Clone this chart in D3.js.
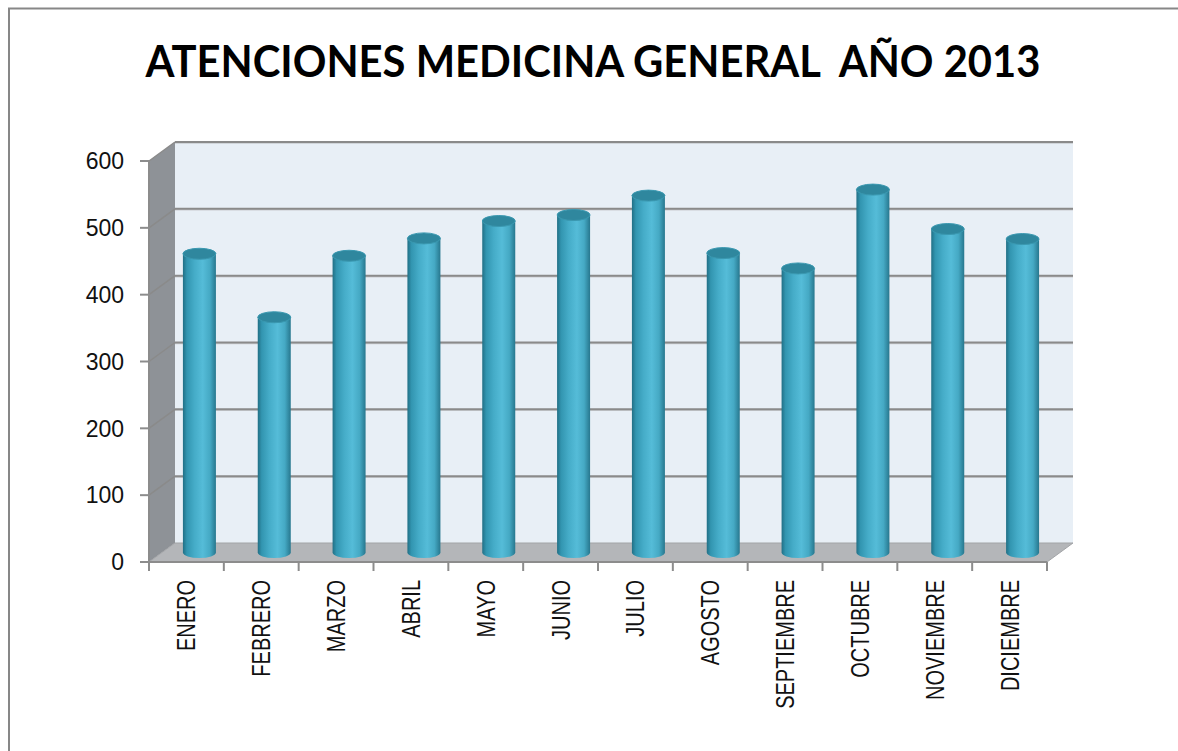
<!DOCTYPE html>
<html>
<head>
<meta charset="utf-8">
<script src="https://cdnjs.cloudflare.com/ajax/libs/d3/7.8.5/d3.min.js"></script>
<style>
  body { margin: 0; background: #fff; }
  svg { display: block; }
</style>
</head>
<body>
<div class="chart"></div>
<script>
var months = ["ENERO", "FEBRERO", "MARZO", "ABRIL", "MAYO", "JUNIO", "JULIO",
	"AGOSTO", "SEPTIEMBRE", "OCTUBRE", "NOVIEMBRE", "DICIEMBRE"];
var values = [447, 352, 444, 470, 496, 505, 534, 448, 425, 543, 484, 469];
var y_ticks = [0, 100, 200, 300, 400, 500, 600];
var title = "ATENCIONES MEDICINA GENERAL  AÑO 2013";

var colors = {
	wall: "#e8eff6",
	side: "#8e9297",
	floor: "#b4b6b9",
	grid: "#8a8a8a",
	axis: "#8c8c8c",
	top: "#2f879e"
};

var width = 1178, height = 751;
// depth of the 3d box
var depth = {x: 26, y: -19};

var svg = d3.select(".chart").append("svg")
	.attr("width", width)
	.attr("height", height);

var x = d3.scaleBand()
	.domain(months)
	.range([149, 1047]);

var y = d3.scaleLinear()
	.domain([0, 600])
	.range([562, 161]);

// gradient for the cylinders
var defs = svg.append("defs");
var grad = defs.append("linearGradient")
	.attr("id", "cyl")
	.attr("x1", "0%").attr("x2", "100%")
	.attr("y1", "0%").attr("y2", "0%");
[[0, "#216f85"], [0.12, "#3295b0"], [0.35, "#45acc8"], [0.6, "#55bcd8"], [0.82, "#45a9c4"], [1, "#27778e"]]
	.forEach(function(s){
		grad.append("stop").attr("offset", s[0]).attr("stop-color", s[1]);
	});

// outer frame (top + left)
svg.append("path")
	.attr("d", "M9,751 L9,8.5 L1178,8.5")
	.attr("fill", "none")
	.attr("stroke", "#878787")
	.attr("stroke-width", 2);

// title
svg.append("text")
	.attr("x", 593)
	.attr("y", 77)
	.attr("text-anchor", "middle")
	.attr("textLength", 895)
	.attr("lengthAdjust", "spacingAndGlyphs")
	.style("white-space", "pre")
	.style("font-family", "Lato, 'Open Sans', sans-serif")
	.style("font-weight", "bold")
	.style("font-size", "44px")
	.text(title);

var x0 = x.range()[0], x1 = x.range()[1];

// back wall
svg.append("rect")
	.attr("x", x0 + depth.x)
	.attr("y", y(600) + depth.y)
	.attr("width", x1 - x0)
	.attr("height", y(0) - y(600))
	.attr("fill", colors.wall);

// left side wall
svg.append("polygon")
	.attr("points", [
		[x0, y(0)], [x0, y(600)], [x0 + depth.x, y(600) + depth.y], [x0 + depth.x, y(0) + depth.y]
	].join(" "))
	.attr("fill", colors.side);

// floor
svg.append("polygon")
	.attr("points", [
		[x0, y(0)], [x0 + depth.x, y(0) + depth.y], [x1 + depth.x, y(0) + depth.y], [x1, y(0)]
	].join(" "))
	.attr("fill", colors.floor);

// gridlines on back wall + side
var grid = svg.selectAll(".grid")
	.data(y_ticks.filter(function(d){ return d > 0; }))
	.enter().append("g")
		.attr("class", "grid");

grid.append("line")
	.attr("x1", x0 + depth.x)
	.attr("x2", x1 + depth.x)
	.attr("y1", function(d){ return y(d) + depth.y + 1; })
	.attr("y2", function(d){ return y(d) + depth.y + 1; })
	.attr("stroke", "#c9ccd0")
	.attr("stroke-width", 1.5);

grid.append("line")
	.attr("x1", x0 + depth.x)
	.attr("x2", x1 + depth.x)
	.attr("y1", function(d){ return y(d) + depth.y; })
	.attr("y2", function(d){ return y(d) + depth.y; })
	.attr("stroke", colors.grid)
	.attr("stroke-width", 2);

grid.append("line")
	.attr("x1", x0)
	.attr("x2", x0 + depth.x)
	.attr("y1", function(d){ return y(d); })
	.attr("y2", function(d){ return y(d) + depth.y; })
	.attr("stroke", colors.grid)
	.attr("stroke-width", 1.5);

// floor outline
svg.append("polyline")
	.attr("points", [[x0, y(0)], [x0 + depth.x, y(0) + depth.y], [x1 + depth.x, y(0) + depth.y], [x1, y(0)]].join(" "))
	.attr("fill", "none")
	.attr("stroke", "#a2a4a7")
	.attr("stroke-width", 1);

// axes
var axis_g = svg.append("g")
	.attr("stroke", colors.axis)
	.attr("stroke-width", 2);

axis_g.append("line")
	.attr("x1", x0).attr("x2", x0)
	.attr("y1", y(600)).attr("y2", y(0));

axis_g.append("line")
	.attr("x1", x0).attr("x2", x1)
	.attr("y1", y(0)).attr("y2", y(0));

axis_g.selectAll(".ytick")
	.data(y_ticks)
	.enter().append("line")
		.attr("x1", x0 - 9).attr("x2", x0)
		.attr("y1", function(d){ return y(d); })
		.attr("y2", function(d){ return y(d); });

axis_g.selectAll(".xtick")
	.data(months.concat(["end"]))
	.enter().append("line")
		.attr("x1", function(d){ return d == "end" ? x1 : x(d); })
		.attr("x2", function(d){ return d == "end" ? x1 : x(d); })
		.attr("y1", y(0))
		.attr("y2", y(0) + 9);

// y labels
svg.selectAll(".ylabel")
	.data(y_ticks)
	.enter().append("text")
		.attr("class", "ylabel")
		.attr("x", 124)
		.attr("y", function(d){ return y(d); })
		.attr("dy", "0.36em")
		.attr("text-anchor", "end")
		.style("font-family", "'Liberation Sans', Arial, sans-serif")
		.style("font-size", "23px")
		.style("fill", "#111")
		.text(function(d){ return d; });

// x labels
svg.selectAll(".xlabel")
	.data(months)
	.enter().append("text")
		.attr("class", "xlabel")
		.attr("transform", function(d){
			return "translate(" + (x(d) + x.bandwidth() / 2) + ",580) rotate(-90) scale(0.8,1)";
		})
		.attr("dy", "0.36em")
		.attr("text-anchor", "end")
		.style("font-family", "'Liberation Sans', Arial, sans-serif")
		.style("font-size", "25px")
		.style("fill", "#111")
		.text(function(d){ return d; });

// cylinders
var r = 16.5, ry = 5.5;
var cyl = svg.selectAll(".cyl")
	.data(months.map(function(m, i){ return {month: m, value: values[i]}; }))
	.enter().append("g")
		.attr("class", "cyl");

function cx(d){ return x(d.month) + x.bandwidth() / 2 + depth.x / 2; }
function ybase(){ return y(0) + depth.y / 2; }
function ytop(d){ return y(d.value) + depth.y / 2; }

cyl.append("path")
	.attr("d", function(d){
		var c = cx(d), yb = ybase(), yt = ytop(d);
		return "M" + (c - r) + "," + yt +
			" L" + (c - r) + "," + yb +
			" A" + r + "," + ry + " 0 0 0 " + (c + r) + "," + yb +
			" L" + (c + r) + "," + yt + " Z";
	})
	.attr("fill", "url(#cyl)");

cyl.append("ellipse")
	.attr("cx", cx)
	.attr("cy", ytop)
	.attr("rx", r)
	.attr("ry", ry)
	.attr("fill", colors.top)
	.attr("stroke", "#3a98b0")
	.attr("stroke-width", 1);
</script>
</body>
</html>
